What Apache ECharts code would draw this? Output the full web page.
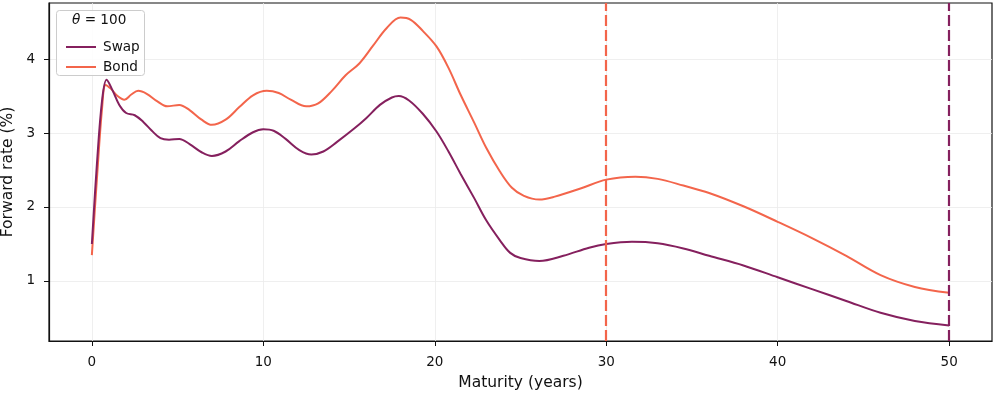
<!DOCTYPE html>
<html>
<head>
<meta charset="utf-8">
<script src="https://cdn.jsdelivr.net/npm/echarts@6/dist/echarts.min.js"></script>
<style>html,body{margin:0;padding:0;background:#fff;}#c{width:996px;height:395px;}</style>
</head>
<body>
<div id="c"></div>
<script>
const swapMaturity = [0,0.3,0.6,0.86,1.2,1.6,2.0,2.5,3.0,3.5,4.0,4.5,5.1,5.7,6.4,7.0,7.8,8.6,9.4,10.0,10.6,11.3,12.1,12.8,13.5,14.3,15.3,16.0,16.8,17.5,17.9,18.5,19.3,20.1,20.8,21.5,22.3,23.0,23.8,24.4,25.0,26.1,27.5,29.0,30.0,31.5,33.0,34.5,36.0,38.0,40.0,42.0,44.0,46.0,48.0,50.0];
const swapRate = [1.50,2.60,3.45,3.72,3.58,3.38,3.27,3.24,3.15,3.03,2.93,2.91,2.92,2.85,2.74,2.69,2.75,2.89,3.01,3.05,3.03,2.92,2.77,2.71,2.75,2.88,3.06,3.20,3.38,3.48,3.50,3.44,3.26,3.02,2.75,2.45,2.12,1.82,1.55,1.38,1.31,1.27,1.34,1.45,1.50,1.53,1.51,1.44,1.34,1.21,1.05,0.89,0.73,0.57,0.46,0.40];
const bondMaturity = [0,0.3,0.6,0.8,1.1,1.5,1.9,2.3,2.7,3.2,3.8,4.4,5.1,5.7,6.4,7.0,7.8,8.6,9.4,10.2,10.9,11.6,12.5,13.2,14.0,14.8,15.6,16.4,17.2,18.0,18.6,19.3,20.1,20.8,21.5,22.3,23.0,23.8,24.5,25.2,26.1,27.0,28.5,30.0,31.7,33.0,34.5,36.0,38.0,40.0,42.0,44.0,46.0,48.0,50.0];
const bondRate = [1.35,2.40,3.35,3.65,3.60,3.50,3.45,3.52,3.57,3.53,3.43,3.36,3.38,3.31,3.18,3.11,3.18,3.35,3.51,3.57,3.54,3.45,3.36,3.40,3.57,3.78,3.94,4.18,4.42,4.56,4.53,4.38,4.17,3.88,3.52,3.14,2.80,2.48,2.26,2.15,2.10,2.14,2.25,2.37,2.41,2.38,2.29,2.19,2.01,1.80,1.58,1.34,1.08,0.92,0.84];
const xTicks = [0,10,20,30,40,50];
const yTicks = [1,2,3,4];
const bondCutoff = 30;
const swapCutoff = 50;
const seriesNames = ['Swap','Bond'];
const legendTitle = '100';

const swapColor = '#85205e';
const bondColor = '#f3654b';
const zip = (a,b)=>a.map((t,i)=>[t,b[i]]);
const font = 'DejaVu Sans';

const chart = echarts.init(document.getElementById('c'), null, {renderer:'canvas'});
chart.setOption({
  animation:false,
  backgroundColor:'#fff',
  grid:{left:49,right:4,top:3,bottom:54,containLabel:false,outerBoundsMode:'none',show:true,borderColor:'#111',borderWidth:1.2,backgroundColor:'transparent'},
  xAxis:{
    type:'value',min:-2.5,max:52.5,
    name:'Maturity (years)',nameLocation:'middle',nameGap:34,
    nameTextStyle:{fontFamily:font,fontSize:15.5,color:'#111'},
    axisLine:{show:true,onZero:false,lineStyle:{color:'#111',width:1.2}},
    axisTick:{show:true,length:5,customValues:xTicks,lineStyle:{color:'#111',width:1}},
    axisLabel:{customValues:xTicks,fontFamily:font,fontSize:13.5,color:'#111',margin:14},
    splitLine:{show:true,lineStyle:{color:'#ebebeb',width:0.8}}
  },
  yAxis:{
    type:'value',min:0.189,max:4.757,
    name:'Forward rate (%)',nameLocation:'middle',nameGap:27,
    nameTextStyle:{fontFamily:font,fontSize:15.5,color:'#111'},
    axisLine:{show:true,onZero:false,lineStyle:{color:'#111',width:1.2}},
    axisTick:{show:true,length:5,customValues:yTicks,lineStyle:{color:'#111',width:1}},
    axisLabel:{customValues:yTicks,fontFamily:font,fontSize:13.5,color:'#111',margin:14},
    splitLine:{show:true,lineStyle:{color:'#ebebeb',width:0.8}}
  },
  legend:{
    left:61,top:35,orient:'vertical',itemWidth:30,itemHeight:2,itemGap:6,z:20,
    icon:'rect',
    data:seriesNames,
    textStyle:{fontFamily:font,fontSize:13.6,color:'#111',padding:[0,0,0,2]}
  },
  graphic:[
    {type:'rect',left:56,top:10,z:10,shape:{width:88,height:65,r:3},style:{fill:'rgba(255,255,255,0.85)',stroke:'#cccccc',lineWidth:1}},
    {type:'text',left:72,top:13,z:21,style:{rich:{i:{fontFamily:font,fontStyle:'italic',fontSize:13.6,fill:'#111'},n:{fontFamily:font,fontSize:13.6,fill:'#111'}},text:'{i|θ}{n| = '+legendTitle+'}'}}
  ],
  series:[
    {name:seriesNames[0],type:'line',data:zip(swapMaturity,swapRate),smooth:0.35,symbol:'none',
     lineStyle:{color:swapColor,width:2},itemStyle:{color:swapColor},z:3,
     markLine:{silent:true,symbol:'none',label:{show:false},data:[{xAxis:swapCutoff}],
       lineStyle:{color:swapColor,width:2.2,type:[11,4]}}},
    {name:seriesNames[1],type:'line',data:zip(bondMaturity,bondRate),smooth:0.35,symbol:'none',
     lineStyle:{color:bondColor,width:2},itemStyle:{color:bondColor},z:2,
     markLine:{silent:true,symbol:'none',label:{show:false},data:[{xAxis:bondCutoff}],
       lineStyle:{color:bondColor,width:2.2,type:[11,4]}}}
  ]
});
</script>
</body>
</html>
